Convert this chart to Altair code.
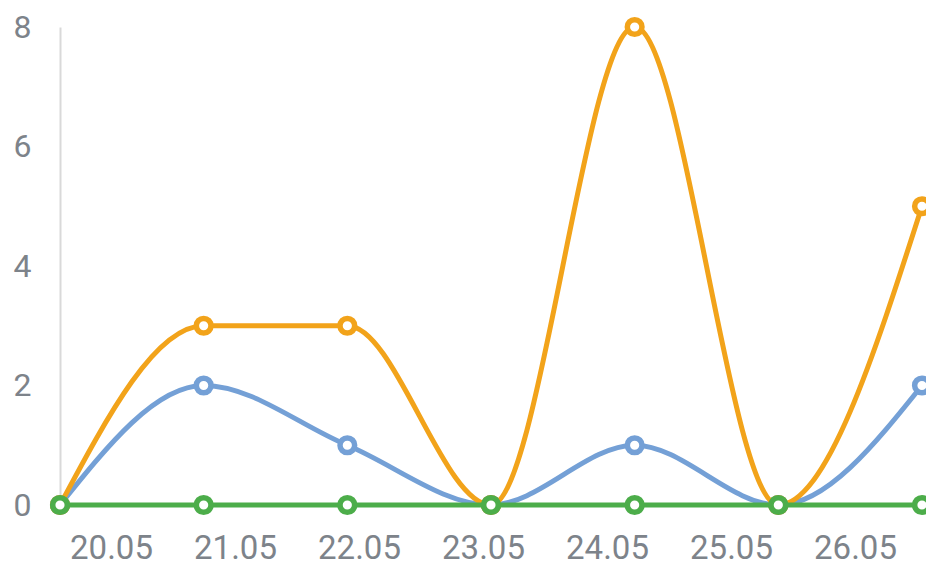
import altair as alt
import pandas as pd

# Daily counts per series
days = ["20.05", "21.05", "22.05", "23.05", "24.05", "25.05", "26.05"]
orange_vals = [0, 3, 3, 0, 8, 0, 5]
blue_vals = [0, 2, 1, 0, 1, 0, 2]
green_vals = [0, 0, 0, 0, 0, 0, 0]
y_ticks = [0, 2, 4, 6, 8]

series = [
    ("blue", blue_vals, "#74a0d6"),
    ("orange", orange_vals, "#f2a31a"),
    ("green", green_vals, "#4cad4a"),
]

rows = []
for name, vals, _ in series:
    for i, (d, v) in enumerate(zip(days, vals)):
        rows.append({"day": d, "idx": i, "series": name, "value": v})
df = pd.DataFrame(rows)

FONT = "Roboto"
LABEL_COLOR = "#7d838a"

x_enc = alt.X("idx:Q", scale=alt.Scale(domain=[0, 6.028], nice=False, zero=False), axis=None)
y_enc = alt.Y(
    "value:Q",
    scale=alt.Scale(domain=[0, 8], nice=False),
    axis=alt.Axis(
        values=y_ticks, title=None, grid=False, ticks=False, tickSize=0,
        labelFont=FONT, labelFontSize=32, labelColor=LABEL_COLOR, labelPadding=29,
        domainColor="#d9d9d9", domainWidth=2,
    ),
)

layers = []
for name, _, color in series:
    base = alt.Chart(df).transform_filter(alt.datum.series == name)
    line = base.mark_line(interpolate="monotone", strokeWidth=5, color=color).encode(x=x_enc, y=y_enc)
    pts = base.mark_point(
        shape="circle", filled=True, fill="white", stroke=color, strokeWidth=5.5, size=215, opacity=1
    ).encode(x=x_enc, y=y_enc)
    layers += [line, pts]

# Date labels along the bottom
labels = alt.Chart(pd.DataFrame({"day": days})).mark_point(opacity=0).encode(
    x=alt.X(
        "day:O", sort=days,
        scale=alt.Scale(type="point", padding=0.492, align=0.418),
        axis=alt.Axis(
            orient="bottom", title=None, domain=False, ticks=False, tickSize=0, grid=False,
            labelAngle=0, labelFont=FONT, labelFontSize=33, labelColor=LABEL_COLOR, labelPadding=27,
        ),
    )
)

chart = (
    alt.layer(*layers, labels)
    .resolve_scale(x="independent")
    .properties(
        width=866, height=478,
        padding={"left": 60, "top": 27, "right": 0, "bottom": 60},
        autosize=alt.AutoSizeParams(type="none"),
        background="white",
    )
    .configure_view(stroke=None)
)

chart.save("out.html", embed_options={"renderer": "svg", "actions": False})
